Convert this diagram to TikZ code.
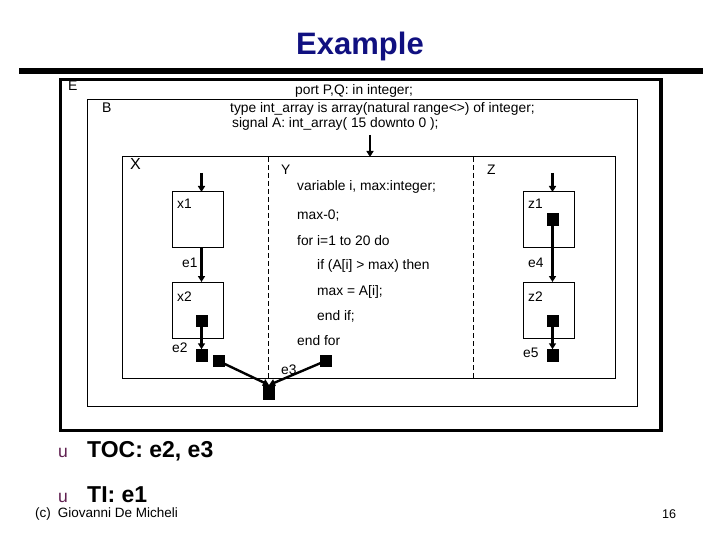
\documentclass[tikz,border=0pt]{standalone}
\usepackage{fontspec}
\setmainfont{Liberation Sans}
\usetikzlibrary{arrows.meta}
\definecolor{titleblue}{RGB}{16,16,128}
\definecolor{bulletpurple}{RGB}{96,32,80}
\begin{document}
\begin{tikzpicture}[x=1pt,y=-1pt,
  frame/.style={draw, line width=1pt, inner sep=0pt, outer sep=0pt, anchor=north west},
  blk/.style={fill=black, inner sep=0pt, outer sep=0pt, minimum width=12pt, minimum height=12.5pt},
  arr/.style={line width=2.4pt, -{Triangle[length=6pt,width=7pt]}},
  divider/.style={line width=0.8pt, dash pattern=on 5pt off 3pt},
  txt/.style={font=\fontsize{13.8}{16}\selectfont, anchor=base west, inner sep=0pt},
  big/.style={font=\fontsize{14}{17}\selectfont, anchor=base west, inner sep=0pt},
  bullet/.style={font=\fontsize{17.5}{20}\selectfont, text=bulletpurple, anchor=base west, inner sep=0pt},
  point/.style={font=\fontsize{23}{27}\selectfont\bfseries, anchor=base west, inner sep=0pt}
]
\useasboundingbox (0,0) rectangle (720,540);

% title and rule
\node[font=\fontsize{31}{36}\selectfont\bfseries, text=titleblue, anchor=base, inner sep=0pt] (title) at (360,55) {Example};
\fill (19,68) rectangle (703,74);

% frames
\node[frame, line width=3.5pt, minimum width=600.5pt, minimum height=351pt] (E) at (60.5,79.5) {};
\node[frame, minimum width=550pt, minimum height=306pt] (B) at (87,100) {};
\node[frame, minimum width=493pt, minimum height=221pt] (XYZ) at (122,157) {};
\coordinate (d1) at (268,157);
\coordinate (d2) at (473,157);
\draw[divider] (d1) -- (d1 |- XYZ.south);
\draw[divider] (d2) -- (d2 |- XYZ.south);

% frame labels and declarations
\node[big] (lE) at (68,91) {E};
\node[big] (lB) at (102,113) {B};
\node[txt, font=\fontsize{16}{19}\selectfont] (lX) at (130,170) {X};
\node[txt] (lY) at (281,175) {Y};
\node[txt] (lZ) at (487,175) {Z};
\node[txt] (port) at (295,95) {port P,Q: in integer;};
\node[txt] (type) at (230,113) {type int\_array is array(natural range<>) of integer;};
\node[txt] (sig) at (232,128) {signal A: int\_array( 15 downto 0 );};

% process Y code
\node[txt] (c1) at (297,191) {variable i, max:integer;};
\node[txt] (c2) at (297,220) {max-0;};
\node[txt] (c3) at (297,245) {for i=1 to 20 do};
\node[txt] (c4) at (317,269) {if (A[i] > max) then};
\node[txt] (c5) at (317,295) {max = A[i];};
\node[txt] (c6) at (317,320) {end if;};
\node[txt] (c7) at (297,345) {end for};

% process X
\node[frame, minimum width=51pt, minimum height=55pt] (x1) at (172,192) {};
\node[frame, minimum width=51pt, minimum height=56pt] (x2) at (172,282) {};
\node[txt] (lx1) at (177,208) {x1};
\node[txt] (lx2) at (177,301) {x2};
\node[txt] (le1) at (182,267) {e1};
\node[txt] (le2) at (172,352) {e2};
\node[blk] (sx2) at (201.5,321) {};
\node[blk] (se2) at (201.5,355.5) {};
\coordinate (inx) at (201.5,173);

% process Z
\node[frame, minimum width=51pt, minimum height=55pt] (z1) at (523,192) {};
\node[frame, minimum width=51pt, minimum height=56pt] (z2) at (523,282) {};
\node[txt] (lz1) at (528,208) {z1};
\node[txt] (lz2) at (528,301) {z2};
\node[txt] (le4) at (528,267) {e4};
\node[txt] (le5) at (523,357) {e5};
\node[blk] (sz1) at (552.5,219.5) {};
\node[blk] (sz2) at (552.5,321) {};
\node[blk] (se5) at (552.5,355.5) {};
\coordinate (inz) at (552.5,173);

% e3 join
\node[blk] (sl) at (218.5,361) {};
\node[blk] (sr) at (325.5,361) {};
\node[blk, minimum height=15pt] (sc) at (269,392.5) {};
\node[txt] (le3) at (281,374) {e3};

% input arrow
\coordinate (inb) at (370,135);

% connectors
\draw[arr] (inb) -- (inb |- XYZ.north);
\draw[arr] (inx) -- (inx |- x1.north);
\draw[arr] (x1.south -| sx2) -- (x2.north -| sx2);
\draw[arr] (sx2.south) -- (se2.north);
\draw[arr] (inz) -- (inz |- z1.north);
\draw[arr] (sz1.south) -- (sz2 |- z2.north);
\draw[arr] (sz2.south) -- (se5.north);
\draw[arr] (sl.center) -- (sc.north);
\draw[arr] (sr.center) -- (sc.north);

% bullets
\node[bullet] (u1) at (58,457) {u};
\node[point] (p1) at (87,457) {TOC: e2, e3};
\node[bullet] (u2) at (58,502) {u};
\node[point] (p2) at (87,502) {TI: e1};
\node[txt, font=\fontsize{13.5}{16}\selectfont] (copy) at (35,517) {(c)\hspace{7pt}Giovanni De Micheli};
\node[txt, font=\fontsize{12.6}{15}\selectfont] (page) at (662,518) {16};
\end{tikzpicture}
\end{document}
